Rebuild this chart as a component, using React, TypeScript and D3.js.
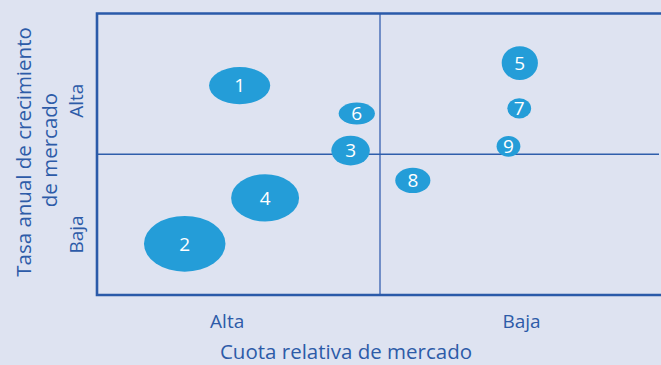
import * as d3 from 'd3'
import { useEffect, useRef } from 'react'

// Unidades estratégicas: posición y tamaño (ancho/alto de la elipse) en unidades del gráfico 0-100
const ids = ['1', '2', '3', '4', '5', '6', '7', '8', '9']
const cuota = [25.2, 15.5, 44.8, 29.7, 74.7, 45.9, 74.6, 55.8, 72.7]
const crecimiento = [74.4, 18.2, 51.3, 34.5, 82.4, 64.5, 66.3, 40.7, 52.8]
const ancho = [5.4, 7.2, 3.4, 6.0, 3.2, 3.2, 2.1, 3.1, 2.1]
const alto = [6.6, 9.9, 5.3, 8.4, 6.0, 3.9, 3.6, 4.5, 3.7]

const xLabels = ['Alta', 'Baja']
const yLabels = ['Alta', 'Baja']
const xTitle = 'Cuota relativa de mercado'
const yTitle = ['Tasa anual de crecimiento', 'de mercado']

const App = () => {
    const ref = useRef<SVGSVGElement>(null)

    useEffect(() => {
        const W = 661
        const H = 365
        const margin = { top: 13.5, right: -2, bottom: 70, left: 97 }
        const font = '"Open Sans", "Noto Sans", sans-serif'
        const textColor = '#2d5ba8'

        const svg = d3.select(ref.current)
        svg.selectAll('*').remove()

        svg.append('rect').attr('width', W).attr('height', H).attr('fill', '#dee3f1')

        const x = d3.scaleLinear().domain([0, 100]).range([margin.left, W - margin.right])
        const y = d3.scaleLinear().domain([0, 100]).range([H - margin.bottom, margin.top])

        // lineas de cuadrante
        svg.append('line')
            .attr('x1', x(50)).attr('x2', x(50))
            .attr('y1', y(100)).attr('y2', y(0))
            .attr('stroke', '#4c72b8').attr('stroke-width', 1.5)
        svg.append('line')
            .attr('x1', x(0)).attr('x2', 659)
            .attr('y1', y(50)).attr('y2', y(50))
            .attr('stroke', '#2f5eab').attr('stroke-width', 1.5)

        // marco (izquierda, arriba, abajo)
        svg.append('path')
            .attr('d', `M${W + 5},${y(100)} H${x(0)} V${y(0)} H${W + 5}`)
            .attr('fill', 'none')
            .attr('stroke', '#2a5aa9')
            .attr('stroke-width', 2.6)

        const data = ids.map((id, i) => ({
            id,
            x: cuota[i],
            y: crecimiento[i],
            w: ancho[i],
            h: alto[i],
        }))

        const g = svg.selectAll('.burbuja')
            .data(data)
            .enter()
            .append('g')
            .attr('class', 'burbuja')

        g.append('ellipse')
            .attr('cx', d => x(d.x))
            .attr('cy', d => y(d.y))
            .attr('rx', d => x(d.w) - x(0))
            .attr('ry', d => y(0) - y(d.h))
            .attr('fill', '#249dd8')

        g.append('text')
            .attr('x', d => x(d.x))
            .attr('y', d => y(d.y))
            .attr('dy', '0.36em')
            .attr('text-anchor', 'middle')
            .attr('fill', '#ffffff')
            .style('font-family', font)
            .style('font-size', '19px')
            .text(d => d.id)

        // etiquetas eje x
        svg.selectAll('.xlab')
            .data(xLabels)
            .enter()
            .append('text')
            .attr('class', 'xlab')
            .attr('x', (d, i) => x(i === 0 ? 23 : 75))
            .attr('y', 328)
            .attr('text-anchor', 'middle')
            .attr('fill', textColor)
            .style('font-family', font)
            .style('font-size', '19px')
            .text(d => d)

        svg.append('text')
            .attr('x', 346)
            .attr('y', 358.5)
            .attr('text-anchor', 'middle')
            .attr('fill', textColor)
            .style('font-family', font)
            .style('font-size', '20.5px')
            .text(xTitle)

        // etiquetas eje y
        svg.selectAll('.ylab')
            .data(yLabels)
            .enter()
            .append('text')
            .attr('class', 'ylab')
            .attr('transform', (d, i) => `translate(83,${y(i === 0 ? 69 : 21.5)}) rotate(-90)`)
            .attr('text-anchor', 'middle')
            .attr('fill', textColor)
            .style('font-family', font)
            .style('font-size', '19px')
            .text(d => d)

        svg.selectAll('.ytitle')
            .data(yTitle)
            .enter()
            .append('text')
            .attr('class', 'ytitle')
            .attr('transform', (d, i) => `translate(${i === 0 ? 31 : 57},${i === 0 ? 152 : 150}) rotate(-90)`)
            .attr('text-anchor', 'middle')
            .attr('fill', textColor)
            .style('font-family', font)
            .style('font-size', '20.5px')
            .text(d => d)
    }, [])

    return (
        <svg ref={ref} width={661} height={365} style={{ position: 'absolute', left: 0, top: 0, display: 'block' }} />
    )
}

export default App
